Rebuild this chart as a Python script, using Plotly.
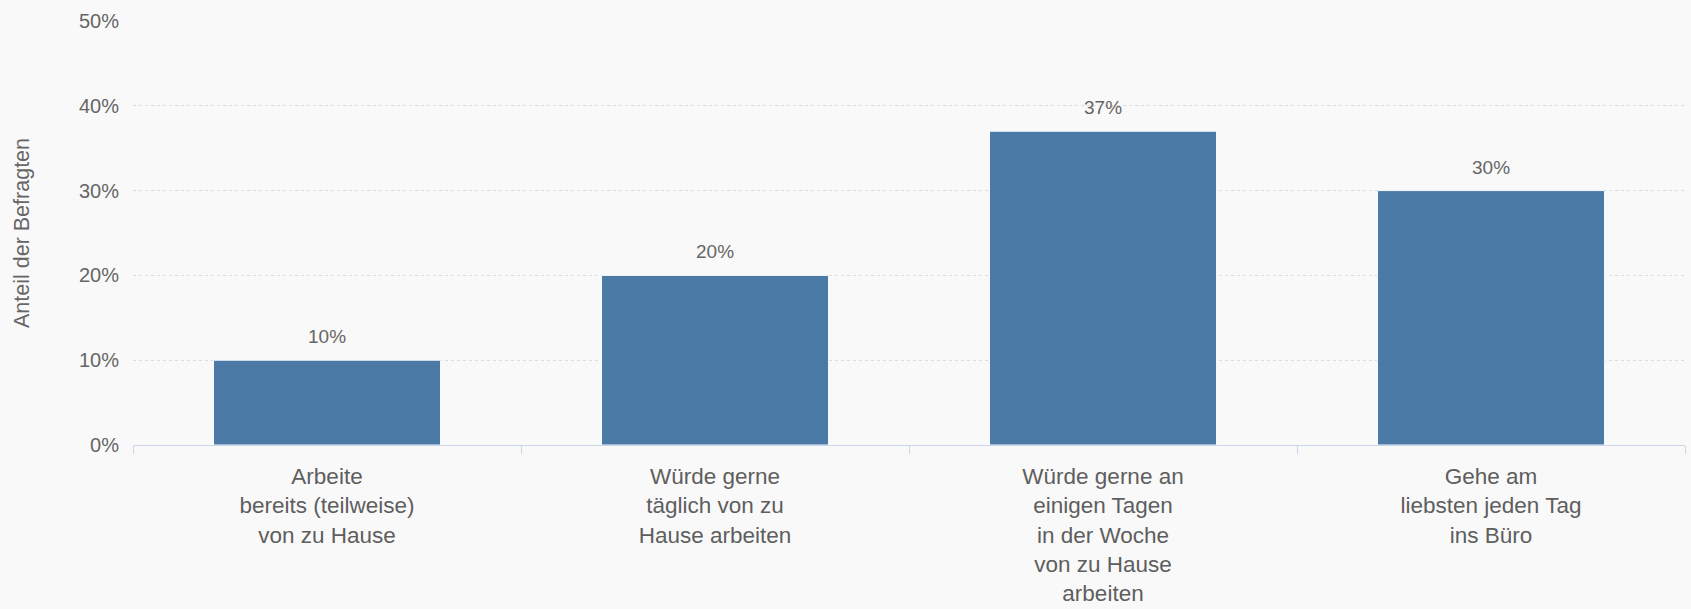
import plotly.graph_objects as go

categories = [
    "Arbeite<br>bereits (teilweise)<br>von zu Hause",
    "Würde gerne<br>täglich von zu<br>Hause arbeiten",
    "Würde gerne an<br>einigen Tagen<br>in der Woche<br>von zu Hause<br>arbeiten",
    "Gehe am<br>liebsten jeden Tag<br>ins Büro",
]
shares = [10, 20, 37, 30]
y_ticks = [0, 10, 20, 30, 40, 50]
y_tick_labels = ["0%", "10%", "20%", "30%", "40%", "50%"]

FONT = "Arial, Liberation Sans, sans-serif"
BG = "#f9f9f9"
BAR = "#4a7aa5"
TEXT = "#666666"

fig = go.Figure()
fig.add_trace(go.Bar(
    x=categories,
    y=shares,
    marker=dict(color=BAR, line=dict(color="#f4f9ff", width=1)),
    hoverinfo="skip",
))

# value labels above each bar
for c, v in zip(categories, shares):
    fig.add_annotation(
        x=c, y=v, text=f"{v}%", showarrow=False,
        yanchor="bottom", yshift=11,
        font=dict(family=FONT, size=19, color=TEXT),
    )

fig.update_layout(
    width=1691, height=609,
    margin=dict(l=133, r=6, t=21, b=164),
    paper_bgcolor=BG, plot_bgcolor=BG,
    bargap=0.415,
    showlegend=False,
    font=dict(family=FONT, color=TEXT),
)

fig.update_xaxes(
    automargin=False,
    showgrid=False,
    showline=True, linecolor="#ccd6eb", linewidth=1,
    ticks="outside", tickson="boundaries", ticklen=8, tickcolor="#ccd6eb",
    tickfont=dict(family=FONT, size=22.5, color="#5e5e5e"),
    ticklabelstandoff=11,
)

fig.update_yaxes(
    automargin=False,
    range=[0, 50],
    tickvals=y_ticks, ticktext=y_tick_labels,
    tickfont=dict(family=FONT, size=20, color=TEXT),
    showgrid=True, gridcolor="#dcdcdc", griddash="dot", gridwidth=1,
    zeroline=False,
    ticklabelstandoff=13,
    title=dict(text="Anteil der Befragten",
               font=dict(family=FONT, size=21.5, color=TEXT), standoff=43),
)

fig.write_html("out.html")
